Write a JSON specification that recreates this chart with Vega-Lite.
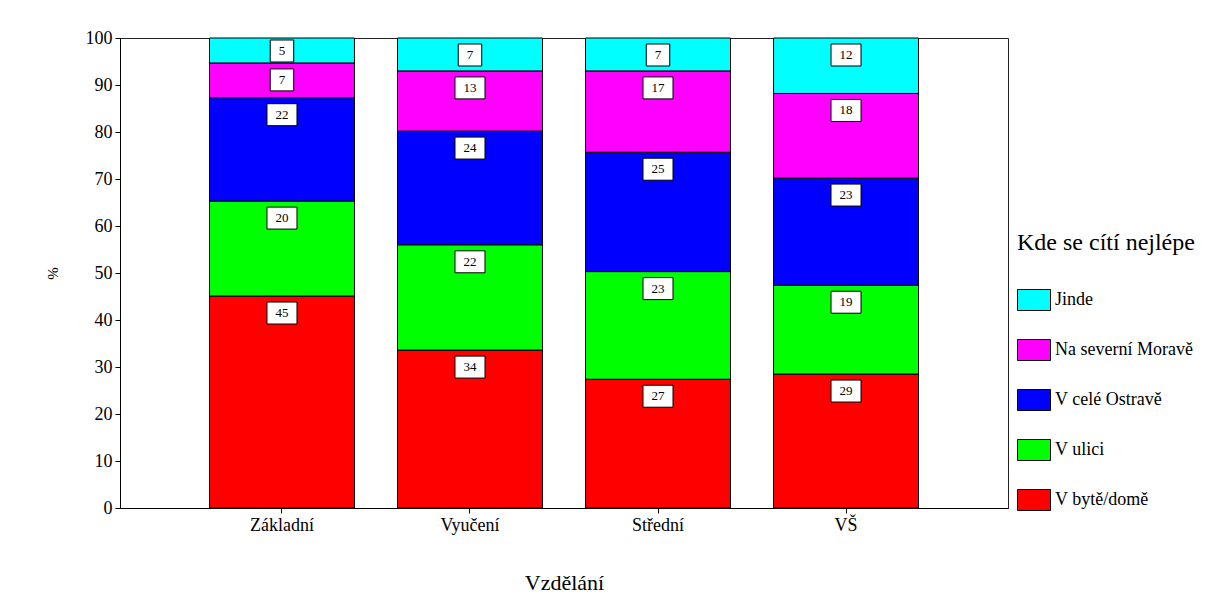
{
  "$schema": "https://vega.github.io/schema/vega-lite/v6.json",
  "width": 888,
  "height": 470,
  "autosize": "none",
  "padding": {"left": 120, "top": 38, "right": 206, "bottom": 96},
  "background": "white",
  "config": {
    "font": "Liberation Serif",
    "view": {"stroke": "#222", "strokeWidth": 1},
    "axis": {"labelFont": "Liberation Serif", "titleFont": "Liberation Serif", "domainColor": "black", "tickColor": "black", "labelColor": "black", "titleColor": "black", "grid": false, "titleFontWeight": "normal"},
    "legend": {"padding": 0, "labelFont": "Liberation Serif", "titleFont": "Liberation Serif"},
    "text": {"font": "Liberation Serif"}
  },
  "data": {
    "values": [
      {"edu": "Základní", "cat": "V bytě/domě", "ord": 1, "value": 45.1},
      {"edu": "Základní", "cat": "V ulici", "ord": 2, "value": 20.2},
      {"edu": "Základní", "cat": "V celé Ostravě", "ord": 3, "value": 22.0},
      {"edu": "Základní", "cat": "Na severní Moravě", "ord": 4, "value": 7.4},
      {"edu": "Základní", "cat": "Jinde", "ord": 5, "value": 5.3},
      {"edu": "Vyučení", "cat": "V bytě/domě", "ord": 1, "value": 33.6},
      {"edu": "Vyučení", "cat": "V ulici", "ord": 2, "value": 22.4},
      {"edu": "Vyučení", "cat": "V celé Ostravě", "ord": 3, "value": 24.2},
      {"edu": "Vyučení", "cat": "Na severní Moravě", "ord": 4, "value": 12.8},
      {"edu": "Vyučení", "cat": "Jinde", "ord": 5, "value": 7.0},
      {"edu": "Střední", "cat": "V bytě/domě", "ord": 1, "value": 27.4},
      {"edu": "Střední", "cat": "V ulici", "ord": 2, "value": 22.9},
      {"edu": "Střední", "cat": "V celé Ostravě", "ord": 3, "value": 25.4},
      {"edu": "Střední", "cat": "Na severní Moravě", "ord": 4, "value": 17.3},
      {"edu": "Střední", "cat": "Jinde", "ord": 5, "value": 7.0},
      {"edu": "VŠ", "cat": "V bytě/domě", "ord": 1, "value": 28.5},
      {"edu": "VŠ", "cat": "V ulici", "ord": 2, "value": 18.9},
      {"edu": "VŠ", "cat": "V celé Ostravě", "ord": 3, "value": 22.8},
      {"edu": "VŠ", "cat": "Na severní Moravě", "ord": 4, "value": 18.0},
      {"edu": "VŠ", "cat": "Jinde", "ord": 5, "value": 11.8}
    ]
  },
  "transform": [
    {"stack": "value", "groupby": ["edu"], "sort": [{"field": "ord", "order": "ascending"}], "as": ["y0", "y1"]}
  ],
  "encoding": {
    "x": {
      "field": "edu", "type": "nominal", "sort": ["Základní", "Vyučení", "Střední", "VŠ"],
      "scale": {"paddingInner": 0.229, "paddingOuter": 0.476},
      "axis": {"title": "Vzdělání", "titleFontSize": 22, "titlePadding": 38, "labelFontSize": 18, "labelAngle": 0, "labelPadding": 3, "tickSize": 5}
    }
  },
  "layer": [
    {
      "mark": {"type": "bar", "stroke": "black", "strokeWidth": 1},
      "encoding": {
        "y": {
          "field": "y1", "type": "quantitative",
          "scale": {"domain": [0, 100], "nice": false},
          "axis": {"title": "%", "titleFontSize": 15, "titlePadding": 25, "labelFontSize": 18, "labelPadding": 3, "tickSize": 5, "values": [0, 10, 20, 30, 40, 50, 60, 70, 80, 90, 100]}
        },
        "y2": {"field": "y0"},
        "color": {
          "field": "cat", "type": "nominal",
          "scale": {
            "domain": ["Jinde", "Na severní Moravě", "V celé Ostravě", "V ulici", "V bytě/domě"],
            "range": ["#00FFFF", "#FF00FF", "#0000FF", "#00FF00", "#FF0000"]
          },
          "legend": {
            "title": "Kde se cítí nejlépe", "orient": "none", "legendX": 897, "legendY": 193,
            "titleFontSize": 24, "titleFontWeight": "normal", "titleColor": "black", "titlePadding": 28,
            "labelFontSize": 18, "labelColor": "black", "labelOffset": 4,
            "symbolType": "M-1,-0.636L1,-0.636L1,0.636L-1,0.636Z", "symbolSize": 1089,
            "symbolStrokeColor": "black", "symbolStrokeWidth": 1, "symbolOpacity": 1,
            "rowPadding": 20
          }
        }
      }
    },
    {
      "mark": {"type": "point", "filled": true, "fill": "white", "stroke": "black", "strokeWidth": 1, "opacity": 1, "size": 900, "yOffset": {"expr": "datum.value < 6 ? 13 : 17"}},
      "encoding": {
        "y": {"field": "y1", "type": "quantitative"},
        "shape": {
          "condition": {"test": "datum.value < 9.5", "value": "M-0.783,-0.733L0.783,-0.733L0.783,0.733L-0.783,0.733Z"},
          "value": "M-1,-0.733L1,-0.733L1,0.733L-1,0.733Z"
        }
      }
    },
    {
      "mark": {"type": "text", "font": "Liberation Serif", "fontSize": 13, "color": "black", "baseline": "middle", "align": "center", "yOffset": {"expr": "datum.value < 6 ? 13 : 17"}},
      "encoding": {
        "y": {"field": "y1", "type": "quantitative"},
        "text": {"field": "value", "type": "quantitative", "format": ".0f"}
      }
    }
  ]
}
